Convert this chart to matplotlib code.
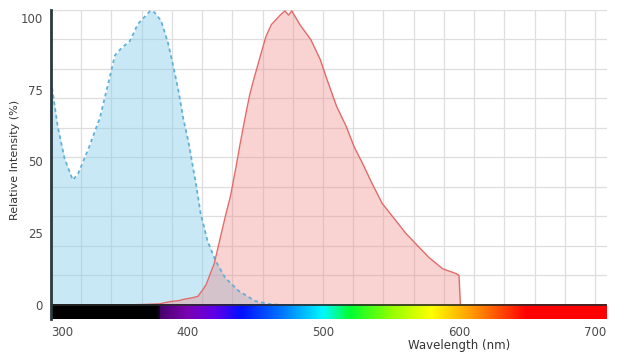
import numpy as np
import matplotlib
matplotlib.use("Agg")
import matplotlib.pyplot as plt
from matplotlib.colors import LinearSegmentedColormap

# Excitation spectrum (dashed blue)
ex_wl = [300, 301, 305, 310, 316, 320, 328, 336, 343, 347, 352, 358, 364, 370, 373, 376,
         381, 386, 390, 394, 397, 401, 404, 407, 410, 415, 421, 428, 438, 450, 460, 470]
ex_val = [78, 75, 62, 51, 43.5, 45.8, 55, 65.3, 79, 87, 89.6, 92, 98, 101, 102.5, 102,
          99, 91.4, 83, 74, 65.5, 57, 49, 41, 32, 22.4, 15.4, 9.5, 4.9, 1.4, 0.3, 0]

# Emission spectrum (solid red)
em_wl = [355, 370, 380, 388, 394, 398, 404, 408, 411, 414, 416, 420, 423.5, 428, 432, 436,
         439, 443, 446, 449, 454, 458, 462, 468.5, 472, 474.7, 477, 483, 491, 498, 503,
         510, 517, 523, 529, 536, 543.5, 553.5, 561, 568, 578, 588, 598, 600, 601]
em_val = [0, 0.2, 0.4, 1.2, 1.5, 2, 2.5, 3, 4.9, 7, 9.5, 14.4, 21.4, 30.5, 38, 48,
          56, 66, 73, 78.5, 86.9, 93.5, 97.7, 101, 102.5, 101, 102.5, 97.7, 92.5, 85.5, 78.5,
          69.2, 62.3, 55, 49.4, 42.4, 35.4, 29.4, 24.9, 21.4, 16.5, 12.6, 10.9, 10.3, 0]

x_ticks = [300, 400, 500, 600, 700]
y_ticks = [0, 25, 50, 75, 100]

# visible-spectrum colour stops for the bar under the axis
spec_stops = [(300, "#000000"), (378, "#000000"), (380, "#4a0070"), (400, "#7a00b0"),
              (420, "#6000e8"), (440, "#0010ff"), (470, "#0078ff"), (500, "#00f8ff"),
              (520, "#00ff30"), (550, "#90ff00"), (580, "#ffff00"), (610, "#ff9a00"),
              (640, "#ff2800"), (650, "#ff0000"), (709, "#ff0000")]

XMIN, XMAX = 300, 708.8
YMIN, YMAX = -4.9, 102.8

fig = plt.figure(figsize=(6.39, 3.57), dpi=100)
ax = fig.add_axes([51/639, 1-319/357, (607-51)/639, (319-10)/357])
ax.set_xlim(XMIN, XMAX)
ax.set_ylim(YMIN, YMAX)

# grid
for gx in np.arange(300, 709, 200/9):
    ax.axvline(gx, color="#dedede", lw=0.9, zorder=0)
for gy in np.linspace(0, YMAX, 11)[1:]:
    ax.axhline(gy, color="#dedede", lw=0.9, zorder=0)

ax.fill_between(ex_wl, ex_val, 0, color="#87ceeb", alpha=0.45, lw=0, zorder=1)
ax.plot(ex_wl, ex_val, color="#62b0d6", lw=1.3, ls=(0, (2, 1.8)), zorder=2)
ax.fill_between(em_wl, em_val, 0, color="#f08080", alpha=0.35, lw=0, zorder=1)
ax.plot(em_wl, em_val, color="#e46a6a", lw=1.0, zorder=2)

# spectrum bar
pos = [(w - XMIN) / (XMAX - XMIN) for w, _ in spec_stops]
pos[-1] = 1.0
cmap = LinearSegmentedColormap.from_list("spec", list(zip(pos, [c for _, c in spec_stops])))
grad = np.linspace(0, 1, 1000)[None, :]
ax.imshow(grad, cmap=cmap, extent=[XMIN, XMAX, YMIN, 0], aspect="auto", zorder=3,
          interpolation="bilinear")
ax.axhline(0, color="#2a2a2a", lw=1.2, zorder=4)

for s in ["top", "right", "bottom"]:
    ax.spines[s].set_visible(False)
ax.spines["left"].set_color("#2a3a40")
ax.spines["left"].set_linewidth(2)
ax.spines["left"].set_zorder(5)

ax.set_xticks(x_ticks)
ax.set_yticks(y_ticks)
ax.tick_params(length=0, labelsize=8.5, colors="#4a4a4a", pad=5)
ax.tick_params(axis="y", pad=6)
labs = ax.get_xticklabels()
labs[0].set_ha("left")

fig.text(15/639, 1-160/357, "Relative Intensity (%)", rotation=90, ha="center", va="center",
         fontsize=8, color="#333333")
fig.text(459/639, 1-345/357, "Wavelength (nm)", ha="center", va="center",
         fontsize=8.5, color="#333333")

fig.savefig("out.png", dpi=100)
